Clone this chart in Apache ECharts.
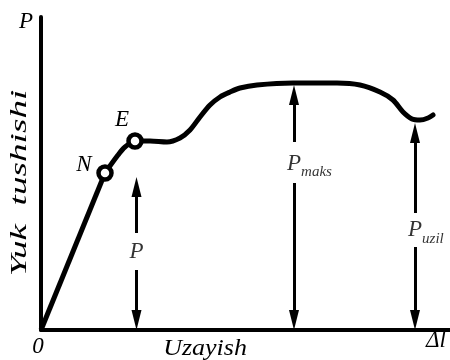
<!DOCTYPE html>
<html>
<head>
<meta charset="utf-8">
<script src="https://cdn.jsdelivr.net/npm/echarts@6/dist/echarts.min.js"></script>
<style>
  html, body { margin: 0; padding: 0; background: #fff; }
  #chart { width: 450px; height: 360px; }
</style>
</head>
<body>
<div id="chart"></div>
<script>
// values (units ~ pixels from the origin)
const elasticPart = [[0, 0], [64, 157]];
const flowCurve = [
  [64, 157], [77, 175], [84, 183], [94, 189], [109, 189], [126, 188], [139, 192],
  [149, 200], [159, 213], [169, 225], [179, 233], [189, 238], [199, 242], [216, 245],
  [252, 247], [296, 247], [319, 245], [339, 238], [352, 230], [362, 218], [371, 211],
  [379, 210], [387, 212], [392, 215]
];
const pointNames = ['N', 'E'];
const pointValues = [[64, 157], [94, 189]];

// vertical force arrows: x, tip at top, gap around the label
const arrowX = [95.5, 253, 374];
const arrowTop = [153, 245, 207];
const gapTop = [97, 188, 117];
const gapBottom = [60, 147, 83];
const arrowSubs = ['', 'maks', 'uzil'];
const arrowLabelY = [78, 166.5, 100];

const FONT = '"Liberation Serif", "Times New Roman", serif';
const HEAD = 20; // arrow head length
// slim head (10 wide, 20 long) inside a 20x20 box
const HEAD_PATH = 'path://M0,0M20,20M10,0L15,20L5,20Z';

let chart = echarts.init(document.getElementById('chart'));

// arrow segments
let arrowLines = [];
arrowX.forEach((x, i) => {
  arrowLines.push({ coords: [[x, gapTop[i]], [x, arrowTop[i] - HEAD / 2]] });
  arrowLines.push({ coords: [[x, gapBottom[i]], [x, HEAD / 2]] });
});

let labelData = arrowX.map((x, i) => ({
  value: [x, arrowLabelY[i]],
  label: { formatter: arrowSubs[i] ? '{p|P}{s|' + arrowSubs[i] + '}' : '{p|P}' }
}));

let option = {
  animation: false,
  grid: { left: 41, right: 0, top: 17, bottom: 30 },
  xAxis: {
    type: 'value', min: 0, max: 409,
    axisLine: { show: true, lineStyle: { color: '#000', width: 4 } },
    axisTick: { show: false }, axisLabel: { show: false }, splitLine: { show: false }
  },
  yAxis: {
    type: 'value', min: 0, max: 313,
    axisLine: { show: true, lineStyle: { color: '#000', width: 4 } },
    axisTick: { show: false }, axisLabel: { show: false }, splitLine: { show: false }
  },
  graphic: [
    { type: 'text', x: 26, y: 22, style: { text: 'P', font: 'italic 23px ' + FONT, fill: '#000', align: 'center', verticalAlign: 'middle' } },
    { type: 'text', x: 38, y: 347, style: { text: '0', font: 'italic 23px ' + FONT, fill: '#000', align: 'center', verticalAlign: 'middle' } },
    { type: 'text', x: 436, y: 341, style: { text: 'Δl', font: 'italic 23px ' + FONT, fill: '#000', align: 'center', verticalAlign: 'middle' } },
    { type: 'text', x: 205, y: 349, scaleX: 1.13, style: { text: 'Uzayish', font: 'italic 23px ' + FONT, fill: '#000', align: 'center', verticalAlign: 'middle' } },
    { type: 'text', x: 20, y: 183, rotation: Math.PI / 2, scaleX: 1.55, style: { text: 'Yuk  tushishi', font: 'italic 24px ' + FONT, fill: '#000', align: 'center', verticalAlign: 'middle' } }
  ],
  series: [
    {
      type: 'line', data: elasticPart, symbol: 'none',
      lineStyle: { color: '#000', width: 5 }, z: 3
    },
    {
      type: 'line', data: flowCurve, symbol: 'none', smooth: 0.3,
      lineStyle: { color: '#000', width: 5, cap: 'round' }, z: 3
    },
    {
      type: 'lines', coordinateSystem: 'cartesian2d', data: arrowLines,
      symbol: ['none', HEAD_PATH], symbolSize: HEAD,
      lineStyle: { color: '#000', width: 3, opacity: 1 }, z: 2
    },
    {
      type: 'scatter', z: 5,
      data: pointValues.map((v, i) => ({
        value: v, name: pointNames[i],
        label: { offset: i === 0 ? [-21, -8] : [-13, -21] }
      })),
      symbol: 'circle', symbolSize: 13,
      itemStyle: { color: '#fff', borderColor: '#000', borderWidth: 4.5, opacity: 1 },
      label: {
        show: true, position: 'inside', formatter: '{b}', color: '#000',
        fontFamily: FONT, fontStyle: 'italic', fontSize: 23
      }
    },
    {
      type: 'scatter', z: 5, data: labelData, symbolSize: 0,
      itemStyle: { color: 'transparent' },
      label: {
        show: true, position: 'inside', align: 'left', verticalAlign: 'middle',
        offset: [-7, 0], color: '#000',
        rich: {
          p: { fontFamily: FONT, fontStyle: 'italic', fontSize: 23, lineHeight: 26, color: '#000' },
          s: { fontFamily: FONT, fontStyle: 'italic', fontSize: 15, lineHeight: 14, padding: [18, 0, 0, 0], color: '#000' }
        }
      }
    }
  ]
};

chart.setOption(option);
</script>
</body>
</html>
